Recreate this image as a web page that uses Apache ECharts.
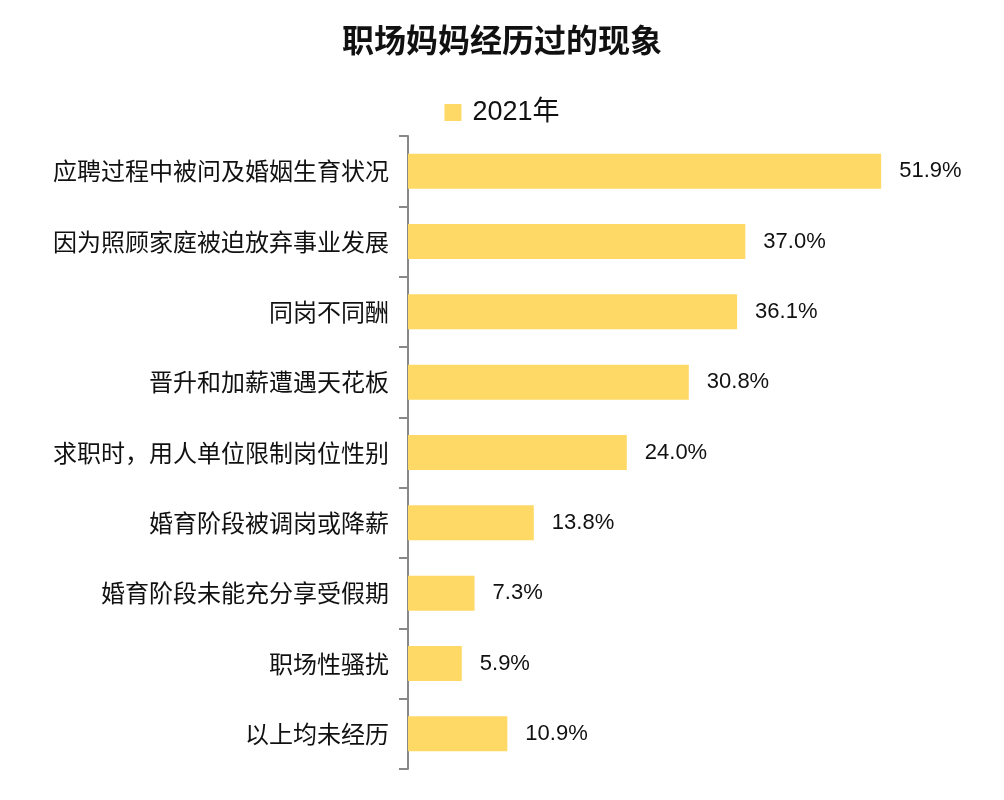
<!DOCTYPE html>
<html>
<head>
<meta charset="utf-8">
<script src="https://cdn.jsdelivr.net/npm/echarts@6/dist/echarts.min.js"></script>
<style>
  html, body { margin: 0; padding: 0; background: #fff; }
  #chart { width: 1004px; height: 800px; }
</style>
</head>
<body>
<div id="chart"></div>
<script>
const categories = [
  "应聘过程中被问及婚姻生育状况",
  "因为照顾家庭被迫放弃事业发展",
  "同岗不同酬",
  "晋升和加薪遭遇天花板",
  "求职时，用人单位限制岗位性别",
  "婚育阶段被调岗或降薪",
  "婚育阶段未能充分享受假期",
  "职场性骚扰",
  "以上均未经历"
];
const values2021 = [51.9, 37.0, 36.1, 30.8, 24.0, 13.8, 7.3, 5.9, 10.9];

const cjk = '"Noto Sans CJK SC", "Noto Sans", sans-serif';
const num = '"Liberation Sans", "Noto Sans CJK SC", sans-serif';
var myChart = echarts.init(document.getElementById("chart"));

var option = {
  animation: false,
  title: {
    text: "职场妈妈经历过的现象",
    left: "center",
    top: 19,
    textStyle: { fontFamily: cjk, fontSize: 32, fontWeight: "bold", color: "#111" }
  },
  legend: {
    data: ["2021年"],
    top: 94,
    left: "center",
    itemWidth: 17,
    itemHeight: 17,
    icon: "rect",
    itemGap: 10,
    textStyle: { fontFamily: num, fontSize: 27, color: "#111", padding: [0, 0, 0, 6] }
  },
  grid: {
    left: 408,
    top: 136,
    width: 547,
    height: 633
  },
  xAxis: {
    type: "value",
    min: 0,
    max: 60,
    show: false
  },
  yAxis: {
    type: "category",
    inverse: true,
    data: categories,
    axisLine: { show: true, lineStyle: { color: "#888", width: 2 } },
    axisTick: { show: true, length: 9, lineStyle: { color: "#888", width: 2 } },
    axisLabel: { fontFamily: cjk, fontSize: 24, color: "#111", margin: 19 }
  },
  series: [
    {
      name: "2021年",
      type: "bar",
      data: values2021,
      barWidth: 35,
      itemStyle: { color: "#FFD966" },
      label: {
        show: true,
        position: "right",
        distance: 18,
        fontFamily: num,
        fontSize: 22,
        color: "#111",
        formatter: (p) => p.value.toFixed(1) + "%"
      }
    }
  ]
};

option && myChart.setOption(option);
</script>
</body>
</html>
